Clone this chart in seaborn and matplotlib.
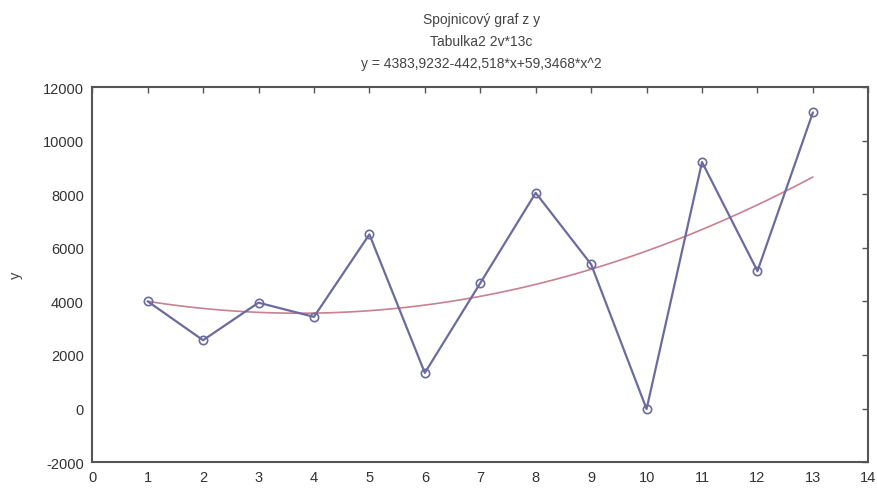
import numpy as np
import pandas as pd
import seaborn as sns
import matplotlib.pyplot as plt

# data
x_vals = [1, 2, 3, 4, 5, 6, 7, 8, 9, 10, 11, 12, 13]
y_vals = [4000, 2550, 3950, 3420, 6500, 1330, 4680, 8050, 5380, -20, 9200, 5130, 11050]
x_ticks = list(range(0, 15))
y_ticks = [-2000, 0, 2000, 4000, 6000, 8000, 10000, 12000]
title_lines = ["Spojnicový graf z y", "Tabulka2 2v*13c", "y = 4383,9232-442,518*x+59,3468*x^2"]

df = pd.DataFrame({"x": x_vals, "y": y_vals})

sns.set_style("white")
plt.rcParams["font.family"] = ["Liberation Sans", "DejaVu Sans"]
plt.rcParams["axes.unicode_minus"] = False

fig = plt.figure(figsize=(8.78, 4.89), dpi=100)
ax = fig.add_axes([0.105, 0.053, 0.884, 0.767])

line_col = "#6b6b9e"
fit_col = "#c98090"

# quadratic fit, computed by seaborn from the data
sns.regplot(data=df, x="x", y="y", order=2, ci=None, scatter=False, truncate=True,
            line_kws={"color": fit_col, "lw": 1.2}, ax=ax)

sns.lineplot(data=df, x="x", y="y", color=line_col, lw=1.6, marker="o",
             markersize=6, markerfacecolor="none", markeredgecolor=line_col,
             markeredgewidth=1.2, ax=ax)

ax.set_xlim(0, 14)
ax.set_ylim(-2000, 12000)
ax.set_xticks(x_ticks)
ax.set_yticks(y_ticks)
ax.set_xlabel("")
ax.set_ylabel("y", fontsize=10.5, color="#444444", labelpad=14)

for s in ax.spines.values():
    s.set_visible(True)
    s.set_color("#555555")
    s.set_linewidth(1.5)

ax.tick_params(direction="in", length=4, width=1, color="#555555",
               labelsize=10.5, labelcolor="#333333", top=True, right=True,
               labeltop=False, labelright=False, pad=6)

fig.text(0.548, 0.960, title_lines[0], ha="center", va="center", fontsize=10, color="#444444")
fig.text(0.548, 0.915, title_lines[1], ha="center", va="center", fontsize=10, color="#444444")
fig.text(0.548, 0.870, title_lines[2], ha="center", va="center", fontsize=10, color="#444444")

plt.savefig("out.png", dpi=100)
